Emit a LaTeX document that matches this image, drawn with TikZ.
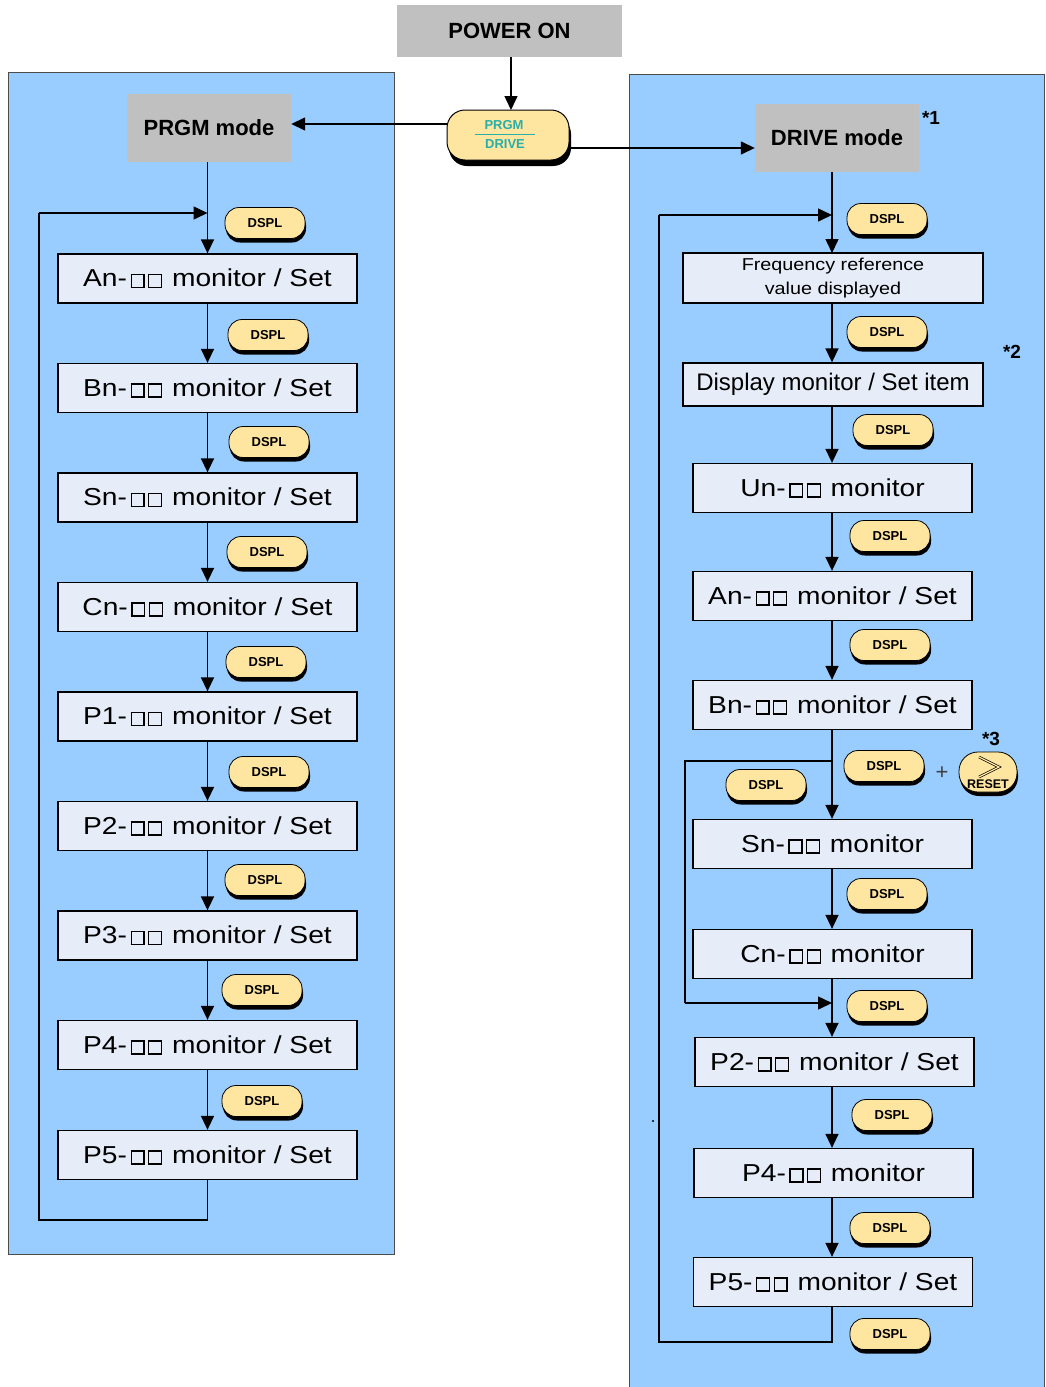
\documentclass[tikz,border=0pt]{standalone}
\usepackage{fontspec}
\setmainfont{Liberation Sans}
\newfontfamily\wide[FakeStretch=1.15]{Liberation Sans}
\usetikzlibrary{arrows.meta,shadows,calc}
\definecolor{panel}{RGB}{153,204,255}
\definecolor{boxfill}{RGB}{230,236,248}
\definecolor{btn}{RGB}{255,230,160}
\definecolor{tealc}{RGB}{40,175,170}
\definecolor{gr}{RGB}{192,192,192}
\newcommand{\sqq}{\hspace{3.5pt}{\setlength{\fboxrule}{1.3pt}\setlength{\fboxsep}{0pt}\fbox{\rule{0pt}{11.5pt}\rule{11.5pt}{0pt}}}}
\newcommand{\sqpair}{\sqq\sqq\hspace{2pt}}
\begin{document}
\begin{tikzpicture}[x=1pt,y=-1pt,
  arr/.style={-{Triangle[width=13pt,length=14pt]}, line width=1.5pt},
  ln/.style={line width=1.5pt},
  mbox/.style={draw, line width=1.3pt, fill=boxfill, minimum width=299pt, minimum height=49pt, inner sep=0pt, font=\wide\fontsize{24.5}{28}\selectfont},
  rbox/.style={mbox, minimum width=279pt},
  graybox/.style={fill=gr, inner sep=0pt, font=\bfseries\fontsize{22}{26}\selectfont},
  dspl/.style={rectangle, rounded corners=14pt, draw, line width=0.8pt, fill=btn, minimum width=80pt, minimum height=31pt, inner sep=0pt, font=\bfseries\fontsize{13}{13}\selectfont, drop shadow={shadow xshift=1pt, shadow yshift=-4pt, fill=black, opacity=1}},
  star/.style={font=\bfseries\fontsize{19}{20}\selectfont, inner sep=0pt}
]
\useasboundingbox (0,0) rectangle (1045,1387);
% panels
\filldraw[fill=panel, draw=black!70, line width=0.8pt] (8,72) rectangle (394,1254);
\filldraw[fill=panel, draw=black!70, line width=0.8pt] (629,74) rectangle (1044.5,1388);

% top
\node[graybox, minimum width=225pt, minimum height=52pt] (pwr) at (509.5,31) {POWER ON};
\node[rectangle, rounded corners=18pt, draw, line width=1pt, fill=btn, minimum width=122pt, minimum height=50pt,
  drop shadow={shadow xshift=2pt, shadow yshift=-6pt, fill=black, opacity=1}] (tg) at (508,135) {};
\node[font=\bfseries\fontsize{13}{14}\selectfont, text=tealc, inner sep=0pt] (tgp) at (504,125) {PRGM};
\node[font=\bfseries\fontsize{13}{14}\selectfont, text=tealc, inner sep=0pt] (tgd) at (505,144) {DRIVE};
\draw[tealc, line width=1.2pt] (475,134.5) -- (535,134.5);

\node[graybox, minimum width=164pt, minimum height=68pt] (prgm) at (209,128) {PRGM mode};
\node[graybox, minimum width=164pt, minimum height=68pt] (drive) at (837,138) {DRIVE mode};
\node[star] (s1) at (931,118) {*1};
\node[star] (s2) at (1012,352) {*2};
\node[star] (s3) at (991,739) {*3};

\draw[arr] (pwr.south -| 511,0) -- (511,110);
\draw[arr] ([yshift=11pt]tg.west) -- ([yshift=11pt]tg.west -| prgm.east);
\draw[arr] ([yshift=-13pt]tg.east) -- ([yshift=-13pt]tg.east -| drive.west);

% left column
\node[mbox] (l1) at (207.5,278.5) {An-\sqpair{} monitor / Set};
\node[mbox] (l2) at (207.5,388) {Bn-\sqpair{} monitor / Set};
\node[mbox] (l3) at (207.5,497.5) {Sn-\sqpair{} monitor / Set};
\node[mbox] (l4) at (207.5,607) {Cn-\sqpair{} monitor / Set};
\node[mbox] (l5) at (207.5,716.5) {P1-\sqpair{} monitor / Set};
\node[mbox] (l6) at (207.5,826) {P2-\sqpair{} monitor / Set};
\node[mbox] (l7) at (207.5,935.5) {P3-\sqpair{} monitor / Set};
\node[mbox] (l8) at (207.5,1045) {P4-\sqpair{} monitor / Set};
\node[mbox] (l9) at (207.5,1155) {P5-\sqpair{} monitor / Set};

\draw[arr] (l1.north |- prgm.south) -- (l1.north);
\foreach \a/\b in {l1/l2,l2/l3,l3/l4,l4/l5,l5/l6,l6/l7,l7/l8,l8/l9}
  \draw[arr] (\a.south) -- (\b.north);
\coordinate (la) at (207.5,1220);
\coordinate (lb) at (39,1220);
\coordinate (lc) at (39,213);
\coordinate (ld) at (207.5,213);
\draw[ln] (l9.south) -- (la) -- (lb) -- (lc);
\draw[arr] (lc) -- (ld);

\node[dspl] (dl1) at (265,223) {DSPL};
\node[dspl] (dl2) at (268,335) {DSPL};
\node[dspl] (dl3) at (269,442) {DSPL};
\node[dspl] (dl4) at (267,552) {DSPL};
\node[dspl] (dl5) at (266,662) {DSPL};
\node[dspl] (dl6) at (269,772) {DSPL};
\node[dspl] (dl7) at (265,880) {DSPL};
\node[dspl] (dl8) at (262,990) {DSPL};
\node[dspl] (dl9) at (262,1101) {DSPL};

% right column
\node[mbox, minimum width=300pt, minimum height=50pt, align=center, font=\wide\fontsize{17.2}{24}\selectfont] (r1) at (833,278) {Frequency reference\\value displayed};
\node[mbox, minimum width=300pt, minimum height=43pt, font=\fontsize{24}{28}\selectfont] (r2) at (833,384.5) {Display monitor / Set item};
\node[rbox] (r3) at (832.5,488) {Un-\sqpair{} monitor};
\node[rbox] (r4) at (832.5,596) {An-\sqpair{} monitor / Set};
\node[rbox] (r5) at (832.5,705) {Bn-\sqpair{} monitor / Set};
\node[rbox] (r6) at (832.5,844) {Sn-\sqpair{} monitor};
\node[rbox] (r7) at (832.5,954) {Cn-\sqpair{} monitor};
\node[rbox] (r8) at (834.5,1062) {P2-\sqpair{} monitor / Set};
\node[rbox] (r9) at (833.5,1173) {P4-\sqpair{} monitor};
\node[rbox] (r10) at (833,1282) {P5-\sqpair{} monitor / Set};

\draw[arr] (832,172) -- (832,253);
\foreach \a/\b in {r1/r2,r2/r3,r3/r4,r4/r5,r5/r6,r6/r7,r7/r8,r8/r9,r9/r10}
  \draw[arr] (\a.south -| 832,0) -- (\b.north -| 832,0);
\coordinate (ra) at (832,1342);
\coordinate (rb) at (659,1342);
\coordinate (rc) at (659,215);
\coordinate (rd) at (832,215);
\draw[ln] (r10.south -| 832,0) -- (ra) -- (rb) -- (rc);
\draw[arr] (rc) -- (rd);
\coordinate (ia) at (832,761);
\coordinate (ib) at (685,761);
\coordinate (ic) at (685,1003);
\coordinate (id) at (832,1003);
\draw[ln] (ia) -- (ib) -- (ic);
\draw[arr] (ic) -- (id);

\node[dspl] (dr1) at (887,219) {DSPL};
\node[dspl] (dr2) at (887,332) {DSPL};
\node[dspl] (dr3) at (893,430) {DSPL};
\node[dspl] (dr4) at (890,536) {DSPL};
\node[dspl] (dr5) at (890,645) {DSPL};
\node[dspl] (dr6) at (884,766) {DSPL};
\node[dspl] (dr7) at (766,785) {DSPL};
\node[dspl] (dr8) at (887,894) {DSPL};
\node[dspl] (dr9) at (887,1006) {DSPL};
\node[dspl] (dr10) at (892,1115) {DSPL};
\node[dspl] (dr11) at (890,1228) {DSPL};
\node[dspl] (dr12) at (890,1334) {DSPL};

\node[font=\fontsize{22}{22}\selectfont, text=black!75, inner sep=0pt] (plus) at (942,773) {+};
\node[rectangle, rounded corners=19pt, draw, line width=0.8pt, fill=btn, minimum width=58pt, minimum height=40pt,
  drop shadow={shadow xshift=1pt, shadow yshift=-4pt, fill=black, opacity=1}] (rst) at (988,772) {};
\node[font=\bfseries\fontsize{12.5}{12.5}\selectfont, inner sep=0pt] (rstt) at (988,784) {RESET};
\draw[line width=2.6pt] (979,757) -- (999,767) -- (979,777);
\draw[line width=1.2pt, btn] (979,757) -- (999,767) -- (979,777);

\fill (653,1121) circle (1.2);
\end{tikzpicture}
\end{document}
